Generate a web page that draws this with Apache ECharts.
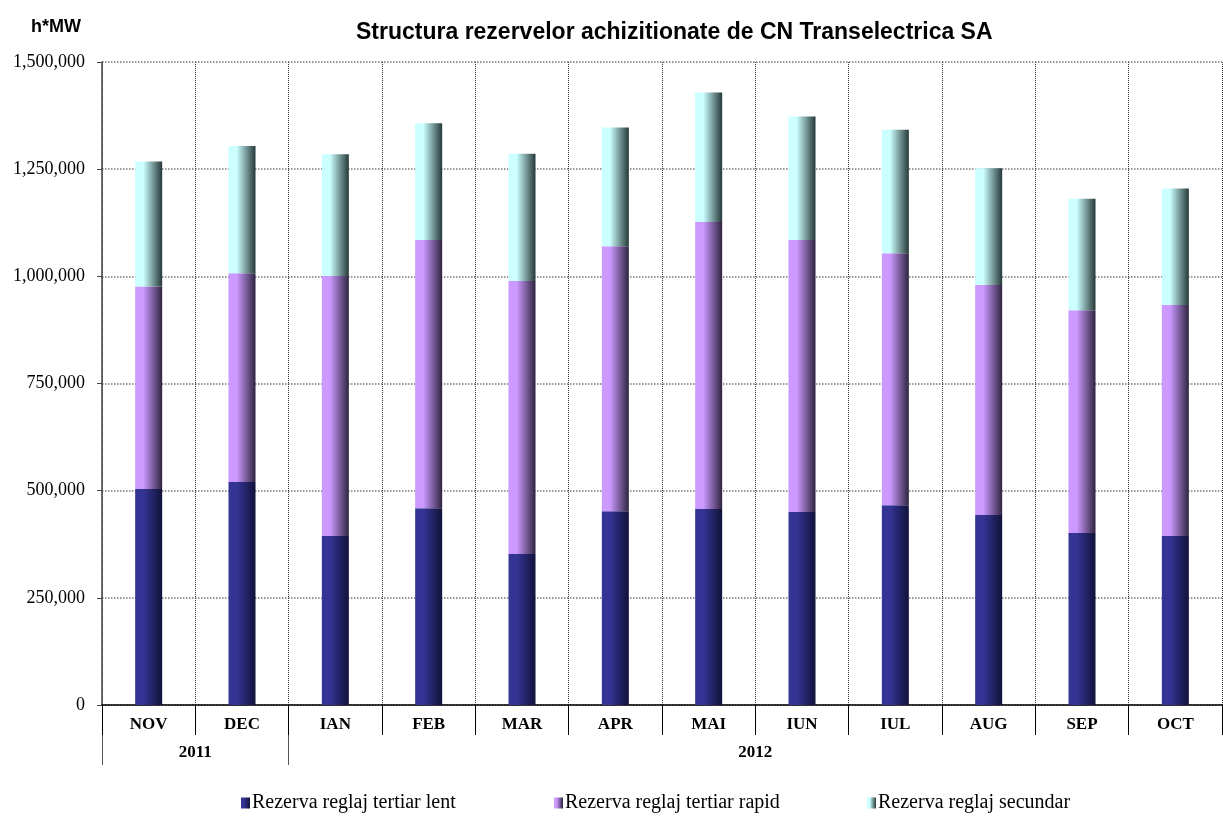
<!DOCTYPE html>
<html>
<head>
<meta charset="utf-8">
<title>Structura rezervelor</title>
<script src="https://cdn.jsdelivr.net/npm/echarts@6/dist/echarts.min.js"></script>
<style>
  html, body { margin: 0; padding: 0; background: #fff; }
  #chart { width: 1223px; height: 818px; }
</style>
</head>
<body>
<div id="chart"></div>
<script>
// months and years (2011: NOV-DEC, 2012: IAN-OCT)
const months = ['NOV', 'DEC', 'IAN', 'FEB', 'MAR', 'APR', 'MAI', 'IUN', 'IUL', 'AUG', 'SEP', 'OCT'];
const years = ['2011', '2012'];
const yearStart = [0, 2];
const yearEnd = 12;

// values, h*MW
const tertiarLent = [504000, 520000, 394000, 459000, 352000, 452000, 457000, 450000, 466000, 443000, 401000, 394000];
const tertiarRapid = [472000, 487000, 607000, 626000, 637000, 618000, 670000, 635000, 588000, 537000, 520000, 539000];
const secundar = [292000, 297000, 284000, 272000, 297000, 277000, 302000, 288000, 288000, 272000, 260000, 272000];

const seriesNames = ['Rezerva reglaj tertiar lent', 'Rezerva reglaj tertiar rapid', 'Rezerva reglaj secundar'];

function grad(light, dark) {
  return new echarts.graphic.LinearGradient(0, 0, 1, 0, [
    { offset: 0, color: light },
    { offset: 0.3, color: light },
    { offset: 1, color: dark }
  ]);
}

const chart = echarts.init(document.getElementById('chart'));

// year row sits on a value axis 0..12 so the labels can fall between months
const yearCenters = years.map((y, i) => {
  const end = i + 1 < yearStart.length ? yearStart[i + 1] : yearEnd;
  return (yearStart[i] + end) / 2;
});

function makeSeries(name, data, light, dark) {
  return {
    name,
    type: 'bar',
    stack: 'total',
    barWidth: 27,
    data,
    itemStyle: { color: grad(light, dark) }
  };
}

// Excel spreads the legend in equal columns, one legend per column here
const legendLeft = [241, 554, 867];
const legends = seriesNames.map((name, i) => ({
  left: legendLeft[i],
  bottom: 5,
  padding: 0,
  itemWidth: 9,
  itemHeight: 11,
  icon: 'rect',
  data: [name],
  textStyle: { fontFamily: 'Liberation Serif', fontSize: 20, color: '#000', padding: [0, 0, 0, -3] }
}));

chart.setOption({
  animation: false,
  title: [
    {
      text: 'Structura rezervelor achizitionate de CN Transelectrica SA',
      left: 351,
      top: 16,
      textStyle: { fontFamily: 'Liberation Sans', fontWeight: 'bold', fontSize: 23, color: '#000' }
    },
    {
      text: 'h*MW',
      left: 26,
      top: 13,
      textStyle: { fontFamily: 'Liberation Sans', fontWeight: 'bold', fontSize: 18, color: '#000' }
    }
  ],
  legend: legends,
  grid: { left: 102, right: 1, top: 62, bottom: 113, containLabel: false },
  xAxis: [
    {
      type: 'category',
      data: months,
      boundaryGap: true,
      axisLine: { lineStyle: { color: '#000', width: 1.5 } },
      axisTick: { show: true, length: 30, lineStyle: { color: '#000' } },
      axisLabel: {
        margin: 11,
        fontFamily: 'Liberation Serif',
        fontWeight: 'bold',
        fontSize: 17,
        color: '#000'
      },
      splitLine: { show: true, lineStyle: { type: 'dotted', color: '#333', width: 1 } }
    },
    {
      type: 'value',
      min: 0,
      max: 12,
      position: 'bottom',
      offset: 30,
      axisLine: { show: false },
      splitLine: { show: false },
      axisTick: {
        show: true,
        length: 30,
        customValues: yearStart,
        lineStyle: { color: '#555' }
      },
      axisLabel: {
        margin: 9,
        customValues: yearCenters,
        formatter: v => years[yearCenters.indexOf(v)] || '',
        fontFamily: 'Liberation Serif',
        fontWeight: 'bold',
        fontSize: 17,
        color: '#000'
      }
    }
  ],
  yAxis: {
    type: 'value',
    min: 0,
    max: 1500000,
    interval: 250000,
    axisLine: { show: true, lineStyle: { color: '#444', width: 1.5 } },
    axisTick: { show: true, length: 5, lineStyle: { color: '#444' } },
    axisLabel: {
      margin: 17,
      fontFamily: 'Liberation Serif',
      fontSize: 18,
      color: '#000',
      formatter: v => v.toLocaleString('en-US')
    },
    splitLine: { lineStyle: { type: 'dotted', color: '#777', width: 1.5 } }
  },
  series: [
    makeSeries(seriesNames[0], tertiarLent, '#343494', '#12123a'),
    makeSeries(seriesNames[1], tertiarRapid, '#cc99ff', '#2e2440'),
    makeSeries(seriesNames[2], secundar, '#ccffff', '#263838')
  ]
});
</script>
</body>
</html>
